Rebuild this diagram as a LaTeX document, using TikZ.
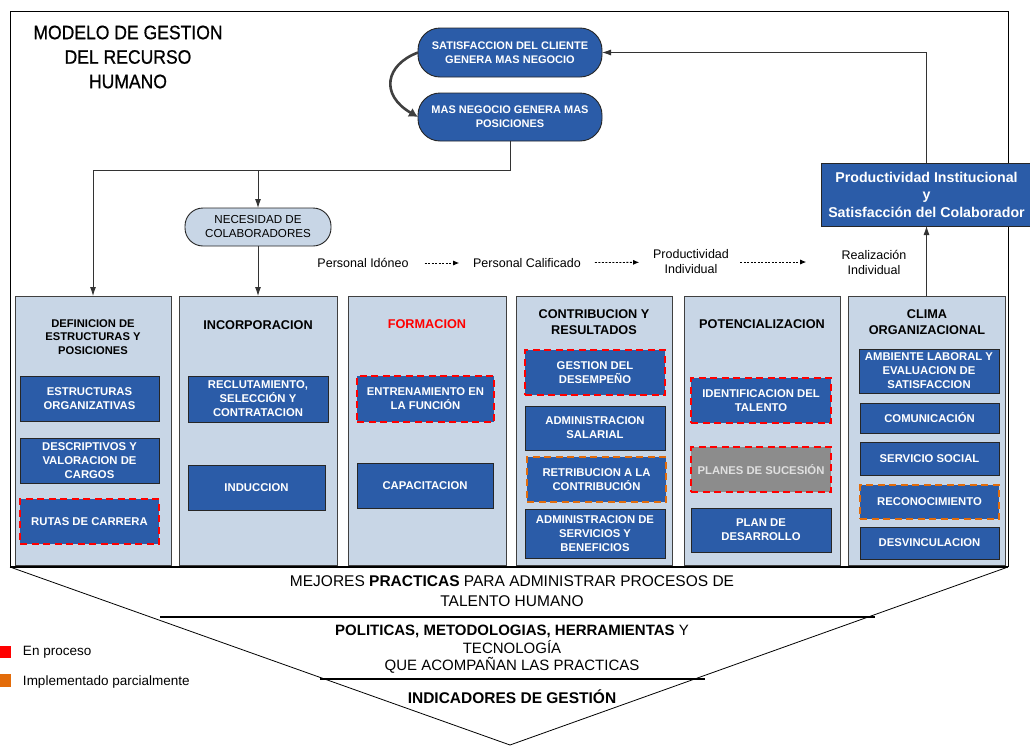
\documentclass[tikz,border=0pt]{standalone}
\usepackage{fontspec}
\setmainfont{Liberation Sans}
\newfontfamily\titlefont[FakeStretch=0.9,FakeBold=0.7]{Liberation Sans}
\usetikzlibrary{arrows.meta}
\definecolor{azulcaja}{RGB}{43,92,168}
\definecolor{azulcol}{RGB}{200,214,230}
\definecolor{naranja}{RGB}{227,108,10}
\definecolor{grisplan}{RGB}{140,140,140}
\definecolor{grisborde}{RGB}{64,64,64}
\def \globalscale {1.000000}

\begin{document}
\begin{tikzpicture}[y=1pt, x=1pt, yscale=-\globalscale, xscale=\globalscale, inner sep=0pt, outer sep=0pt,
  columna/.style={draw=grisborde, fill=azulcol, line width=0.9pt, minimum height=269pt},
  tarea/.style={draw=black!85, fill=azulcaja, text=white, line width=0.9pt, align=center, font=\fontsize{11.3}{14}\selectfont\bfseries},
  enproceso/.style={draw=red, line width=1.6pt, dash pattern=on 7pt off 4.5pt},
  parcial/.style={draw=naranja, line width=1.6pt, dash pattern=on 7pt off 4.5pt},
  titulo/.style={align=center, font=\fontsize{12.7}{16}\selectfont\bfseries},
  ovalo/.style={draw=black!85, fill=azulcaja, text=white, line width=0.9pt, rounded corners=22pt, align=center, font=\fontsize{11}{14}\selectfont\bfseries},
  flujo/.style={align=center, font=\fontsize{12.5}{15}\selectfont},
  conector/.style={draw=black!80, line width=0.9pt, -{Latex[length=9pt,width=6pt]}},
  punteado/.style={draw=black, line width=0.8pt, dash pattern=on 2pt off 1.5pt, -{Latex[length=6pt,width=5pt]}},
  base/.style={align=center, font=\fontsize{15.5}{20}\selectfont}]
\path[fill=white] (0,0) rectangle (1030,747);
\useasboundingbox (0,0) rectangle (1030,747);

\path[draw=black,line width=0.8pt] (1008,567) -- (1008,11) -- (10,11) -- (10,567);
\path[draw=black,line width=0.8pt] (10,567) -- (510,745) -- (1008,567);
\path[draw=black,line width=1.8pt] (160,617) -- (875,617);
\path[draw=black,line width=1.8pt] (320,679) -- (705,679);

\node[align=center, font=\titlefont\fontsize{19.5}{24.5}\selectfont] (titulo) at (128,57) {MODELO DE GESTION\\DEL RECURSO\\HUMANO};

\node[ovalo, minimum width=184pt, minimum height=49pt] (satis) at (510,52.5) {SATISFACCION DEL CLIENTE\\GENERA MAS NEGOCIO};
\node[ovalo, minimum width=184pt, minimum height=48pt] (negoc) at (510,117) {MAS NEGOCIO GENERA MAS\\POSICIONES};
\node[ovalo, fill=azulcol, text=black, font=\fontsize{11.6}{14}\selectfont, rounded corners=18pt, minimum width=146pt, minimum height=38pt] (neces) at (258,227) {NECESIDAD DE\\COLABORADORES};
\node[draw=black!85, fill=azulcaja, text=white, line width=0.9pt, align=center, font=\fontsize{14.2}{17.5}\selectfont\bfseries, minimum width=210pt, minimum height=63pt] (produ) at (926.5,194.5) {Productividad Institucional\\y\\Satisfacción del Colaborador};

\node[columna, minimum width=156pt] (defi) at (93,430.5) {};
\node[columna, minimum width=158pt] (incor) at (258,430.5) {};
\node[columna, minimum width=158pt] (forma) at (427,430.5) {};
\node[columna, minimum width=156pt] (contr) at (594,430.5) {};
\node[columna, minimum width=156pt] (poten) at (762,430.5) {};
\node[columna, minimum width=157pt] (clima) at (926.5,430.5) {};
\path[draw=black,line width=2pt] (10,567) -- (1008,567);

\node[titulo, font=\fontsize{11.2}{13.5}\selectfont\bfseries] (defitit) at (93,337) {DEFINICION DE\\ESTRUCTURAS Y\\POSICIONES};
\node[titulo] (incortit) at (258,325) {INCORPORACION};
\node[titulo, text=red] (formatit) at (427,324) {FORMACION};
\node[titulo] (contrtit) at (594,322) {CONTRIBUCION Y\\RESULTADOS};
\node[titulo] (potentit) at (762,324) {POTENCIALIZACION};
\node[titulo] (climatit) at (927,322) {CLIMA\\ORGANIZACIONAL};

\node[tarea, minimum width=139pt, minimum height=45pt] (estru) at (89.5,398.5) {ESTRUCTURAS\\ORGANIZATIVAS};
\node[tarea, minimum width=139pt, minimum height=45pt] (descr) at (89.5,460.5) {DESCRIPTIVOS Y\\VALORACION DE\\CARGOS};
\node[tarea, enproceso, minimum width=139pt, minimum height=45pt] (rutas) at (89.5,521.5) {RUTAS DE CARRERA};

\node[tarea, minimum width=140pt, minimum height=46pt] (reclu) at (258,399) {RECLUTAMIENTO,\\SELECCIÓN Y\\CONTRATACION};
\node[tarea, minimum width=137pt, minimum height=45pt] (induc) at (256.5,487.5) {INDUCCION};

\node[tarea, enproceso, minimum width=137pt, minimum height=46pt] (entre) at (425.5,399) {ENTRENAMIENTO EN\\LA FUNCIÓN};
\node[tarea, minimum width=136pt, minimum height=45pt] (capac) at (425,485.5) {CAPACITACION};

\node[tarea, enproceso, minimum width=140pt, minimum height=45pt] (gesti) at (595,372.5) {GESTION DEL\\DESEMPEÑO};
\node[tarea, minimum width=140pt, minimum height=44pt] (salar) at (595,428) {ADMINISTRACION\\SALARIAL};
\node[tarea, parcial, minimum width=139pt, minimum height=45pt] (retri) at (596.5,479.5) {RETRIBUCION A LA\\CONTRIBUCIÓN};
\node[tarea, minimum width=140pt, minimum height=49pt] (servi) at (595,533.5) {ADMINISTRACION DE\\SERVICIOS Y\\BENEFICIOS};

\node[tarea, enproceso, minimum width=140pt, minimum height=45pt] (ident) at (761,400.5) {IDENTIFICACION DEL\\TALENTO};
\node[tarea, enproceso, fill=grisplan, text=white!88!black, minimum width=140pt, minimum height=45pt] (plane) at (761,469.5) {PLANES DE SUCESIÓN};
\node[tarea, minimum width=140pt, minimum height=44pt] (desar) at (761,530) {PLAN DE\\DESARROLLO};

\node[tarea, minimum width=140pt, minimum height=44pt] (ambie) at (929,371) {AMBIENTE LABORAL Y\\EVALUACION DE\\SATISFACCION};
\node[tarea, minimum width=139pt, minimum height=30pt] (comun) at (929.5,418) {COMUNICACIÓN};
\node[tarea, minimum width=139pt, minimum height=33pt] (socia) at (929.5,458.5) {SERVICIO SOCIAL};
\node[tarea, parcial, minimum width=139pt, minimum height=34pt] (recon) at (929.5,502) {RECONOCIMIENTO};
\node[tarea, minimum width=139pt, minimum height=32pt] (desvi) at (929.5,543) {DESVINCULACION};

\node[flujo] (idone) at (363,263) {Personal Idóneo};
\node[flujo] (calif) at (527,263) {Personal Calificado};
\node[flujo] (indiv) at (691,262) {Productividad\\Individual};
\node[flujo] (reali) at (874,262) {Realización\\Individual};

\coordinate (quiebre) at (510,170);
\coordinate (ramal) at (258,170);
\draw[conector] (negoc.south) -- (quiebre) -| (defi.north);
\draw[conector] (ramal) -- (neces.north);
\draw[conector] (neces.south) -- (incor.north);
\draw[conector] (clima.north) -- (produ.south);
\draw[conector] (produ.north) |- (satis.east);
\draw[draw=black!75, line width=2.6pt, -{Latex[length=9pt,width=10pt]}] (satis.west) .. controls (385,65) and (380,95) .. (negoc.west);

\draw[punteado, shorten <=16pt, shorten >=14pt] (idone) -- (calif);
\draw[punteado, shorten <=14pt, shorten >=14pt] (calif) -- (indiv);
\draw[punteado, shorten <=11.5pt, shorten >=35.5pt] (indiv) -- (reali);

\node[base] (mejor) at (512,591) {MEJORES \textbf{PRACTICAS} PARA ADMINISTRAR PROCESOS DE\\TALENTO HUMANO};
\node[base, font=\fontsize{15}{17.5}\selectfont] (polit) at (512,649.5) {\textbf{POLITICAS, METODOLOGIAS, HERRAMIENTAS} Y\\TECNOLOGÍA\\QUE ACOMPAÑAN LAS PRACTICAS};
\node[base, font=\fontsize{15.5}{20}\selectfont\bfseries] (indic) at (512,697) {INDICADORES DE GESTIÓN};

\node[fill=red, minimum width=11pt, minimum height=12pt] (rojo) at (5.5,652) {};
\node[anchor=west, font=\fontsize{13.5}{16}\selectfont] (rojotxt) at (23,652) {En proceso};
\node[fill=naranja, minimum width=11pt, minimum height=13pt] (naran) at (5.5,680.5) {};
\node[anchor=west, font=\fontsize{13.5}{16}\selectfont] (narantxt) at (23,682) {Implementado parcialmente};
\end{tikzpicture}
\end{document}
